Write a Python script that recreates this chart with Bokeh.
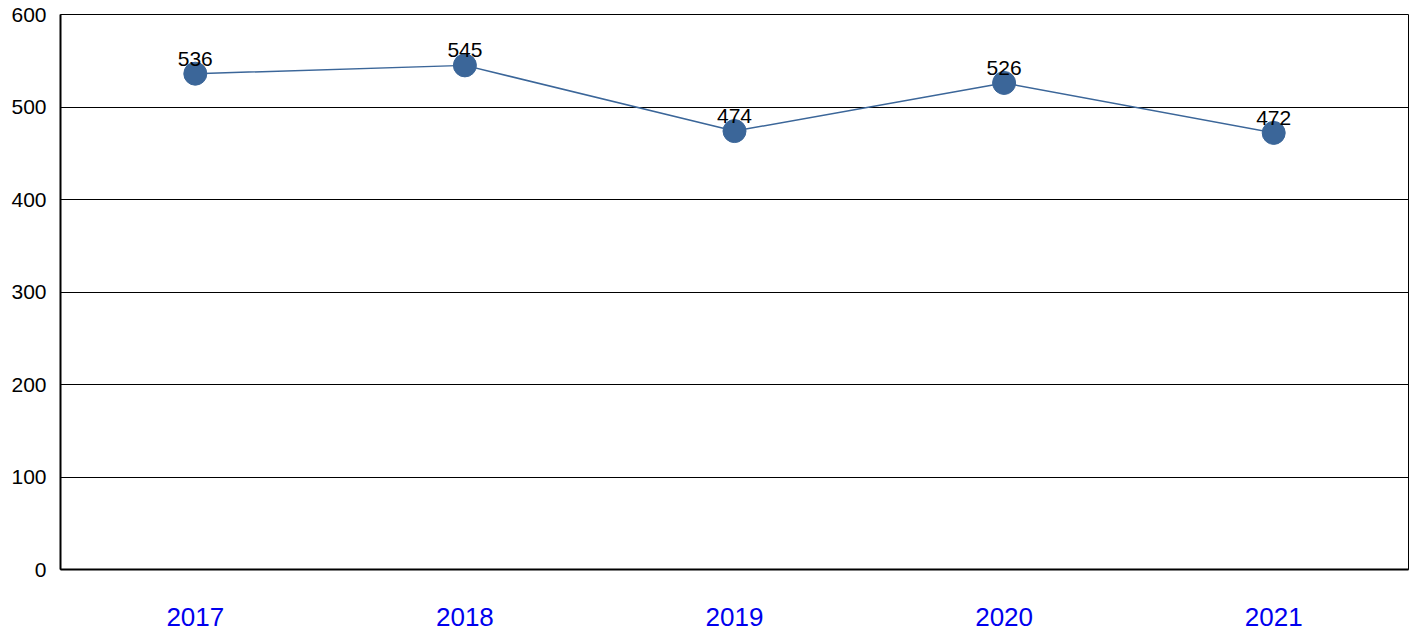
from bokeh.plotting import figure
from bokeh.models import ColumnDataSource, FixedTicker, LabelSet
from bokeh.core.properties import value
from bokeh.embed import file_html
from bokeh.resources import INLINE

years = ["2017", "2018", "2019", "2020", "2021"]
counts = [536, 545, 474, 526, 472]
y_ticks = [0, 100, 200, 300, 400, 500, 600]

FONT = "Liberation Sans"
PT_COLOR = "#3B6699"
LINK = "#0000EE"

src = ColumnDataSource(dict(x=years, y=counts, lbl=[str(c) for c in counts]))

p = figure(x_range=years, y_range=(0, 600), width=1410, height=634,
           output_backend="svg", toolbar_location=None,
           min_border_left=60, min_border_right=2, min_border_top=14, min_border_bottom=65)

p.line("x", "y", source=src, line_color=PT_COLOR, line_width=1.5)
p.scatter("x", "y", source=src, size=23, fill_color=PT_COLOR, line_color=PT_COLOR)

labels = LabelSet(x="x", y="y", text="lbl", source=src, text_align="center",
                  text_baseline="alphabetic", y_offset=8, text_font=value(FONT),
                  text_font_size="21px", text_color="black")
p.add_layout(labels)

p.outline_line_color = "black"
p.outline_line_width = 1
p.xgrid.grid_line_color = None
p.ygrid.grid_line_color = "black"
p.ygrid.grid_line_width = 1
p.ygrid.ticker = FixedTicker(ticks=y_ticks)

p.yaxis.ticker = FixedTicker(ticks=y_ticks)
p.yaxis.major_tick_line_color = None
p.yaxis.minor_tick_line_color = None
p.yaxis.major_tick_out = 0
p.yaxis.major_label_standoff = 14
p.yaxis.axis_line_color = "black"
p.yaxis.axis_line_width = 2
p.yaxis.major_label_text_font = FONT
p.yaxis.major_label_text_font_size = "21px"
p.yaxis.major_label_text_color = "black"

p.xaxis.major_tick_line_color = None
p.xaxis.major_tick_out = 0
p.xaxis.axis_line_color = "black"
p.xaxis.axis_line_width = 2
p.xaxis.major_label_standoff = 38
p.xaxis.major_label_text_font = FONT
p.xaxis.major_label_text_font_size = "26px"
p.xaxis.major_label_text_color = LINK

open("out.html", "w").write(file_html(p, INLINE))
